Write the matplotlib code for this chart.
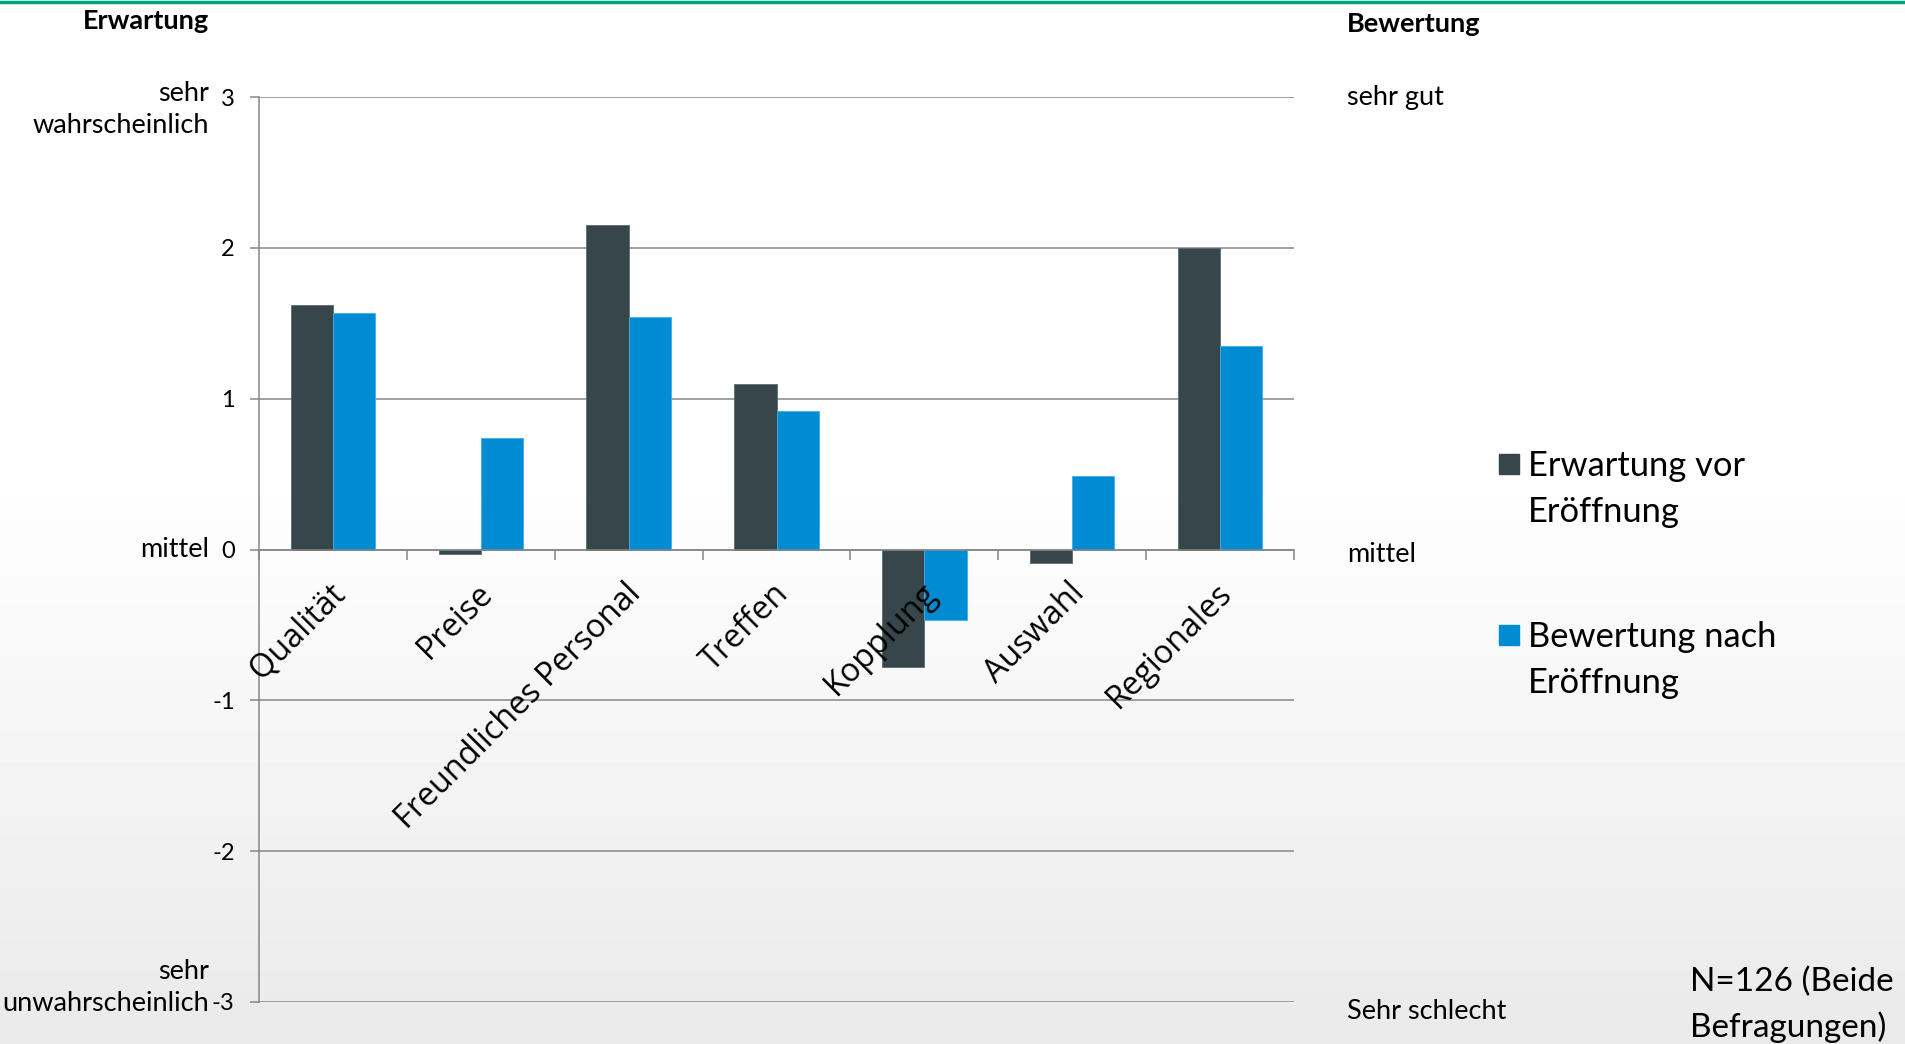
import matplotlib.pyplot as plt
import matplotlib.transforms as mtransforms
from matplotlib.patches import Rectangle
import numpy as np

# data
categories = ["Qualität", "Preise", "Freundliches Personal", "Treffen",
              "Kopplung", "Auswahl", "Regionales"]
erwartung = [1.62, -0.03, 2.15, 1.10, -0.78, -0.09, 2.00]
bewertung = [1.57, 0.74, 1.54, 0.92, -0.47, 0.49, 1.35]
series_names = ["Erwartung vor\nEröffnung", "Bewertung nach\nEröffnung"]
series_colors = ["#37464b", "#008bd2"]
yticks = [-3, -2, -1, 0, 1, 2, 3]

W, H = 1905, 1044
fig = plt.figure(figsize=(W / 100, H / 100), dpi=100)
plt.rcParams['font.family'] = ['Lato', 'DejaVu Sans']

# background: white top, soft grey gradient towards bottom
bg = fig.add_axes([0, 0, 1, 1], zorder=-10)
grad = np.concatenate([np.ones(45), np.linspace(1.0, 0.915, 55)]).reshape(-1, 1)
bg.imshow(grad, aspect='auto', cmap='gray', vmin=0, vmax=1, extent=[0, 1, 0, 1], origin='upper')
bg.axis('off')
# green rule at top
bg.axhline(0.998, color="#00a37a", lw=2.5)
bg.set_xlim(0, 1)
bg.set_ylim(0, 1)

ax = fig.add_axes([259 / W, 1 - 1002 / H, (1294 - 259) / W, (1002 - 97) / H])
ax.patch.set_alpha(0)

x = np.arange(len(categories))
w = 0.2857
ax.bar(x - w / 2, erwartung, w, color=series_colors[0], edgecolor="#5a6a70", lw=0.6, zorder=3)
ax.bar(x + w / 2, bewertung, w, color=series_colors[1], edgecolor="#3fb0e8", lw=0.6, zorder=3)

ax.set_xlim(-0.5, len(categories) - 0.5)
ax.set_ylim(-3, 3)
ax.set_yticks(yticks)
ax.set_yticklabels([str(v) for v in yticks])
ax.yaxis.grid(True, color="#868686", lw=1.1, zorder=0)
ax.set_axisbelow(True)

for s in ["top", "right"]:
    ax.spines[s].set_visible(False)
ax.spines["left"].set_color("#868686")
ax.spines["left"].set_linewidth(1.1)
ax.spines["bottom"].set_position(("data", 0))
ax.spines["bottom"].set_color("#868686")
ax.spines["bottom"].set_linewidth(1.1)
ax.spines["bottom"].set_zorder(4)

ax.set_xticks(np.arange(-0.5, len(categories), 1.0))
ax.set_xticklabels([])
ax.tick_params(axis='x', length=7, width=1.1, color="#868686", direction='out')
ax.tick_params(axis='y', length=6.5, width=1.1, color="#868686", pad=11,
               labelsize=17, labelcolor="black")

# rotated category labels
for i, c in enumerate(categories):
    ax.text(i + 0.05, -0.26, c, rotation=45, ha='right', va='center',
            rotation_mode='anchor', fontsize=23.3, family=['Open Sans', 'DejaVu Sans'])

# left and right axis descriptions
lt = mtransforms.blended_transform_factory(fig.transFigure, ax.transData)
fs = 19.5
fig.text(209 / W, 2.92, "sehr\nwahrscheinlich", transform=lt, ha='right', va='center',
         fontsize=fs, multialignment='right', linespacing=1.35)
fig.text(209 / W, 0.0, "mittel", transform=lt, ha='right', va='center', fontsize=fs)
fig.text(209 / W, -2.905, "sehr\nunwahrscheinlich", transform=lt, ha='right', va='center',
         fontsize=fs, multialignment='right', linespacing=1.35)
fig.text(1347 / W, 3.0, "sehr gut", transform=lt, ha='left', va='center', fontsize=fs)
fig.text(1347 / W, -0.03, "mittel", transform=lt, ha='left', va='center', fontsize=fs)
fig.text(1347 / W, -3.06, "Sehr schlecht", transform=lt, ha='left', va='center', fontsize=fs)

fig.text(209 / W, 1 - 21 / H, "Erwartung", ha='right', va='center', fontsize=19.5, weight='bold')
fig.text(1347 / W, 1 - 24 / H, "Bewertung", ha='left', va='center', fontsize=19.5, weight='bold')

# legend drawn by hand so the square sits next to the first line
leg_y = [464, 635]
for name, col, yy in zip(series_names, series_colors, leg_y):
    fig.patches.append(Rectangle((1499 / W, 1 - (yy + 10) / H), 20 / W, 20 / H,
                                 transform=fig.transFigure, color=col))
    fig.text(1528 / W, 1 - (yy - 14) / H, name, ha='left', va='top', fontsize=24.8,
             linespacing=1.55)

fig.text(1690 / W, 1 - 1005 / H, "N=126 (Beide\nBefragungen)", ha='left', va='center',
         fontsize=24, linespacing=1.55)

fig.savefig("out.png", dpi=100)
